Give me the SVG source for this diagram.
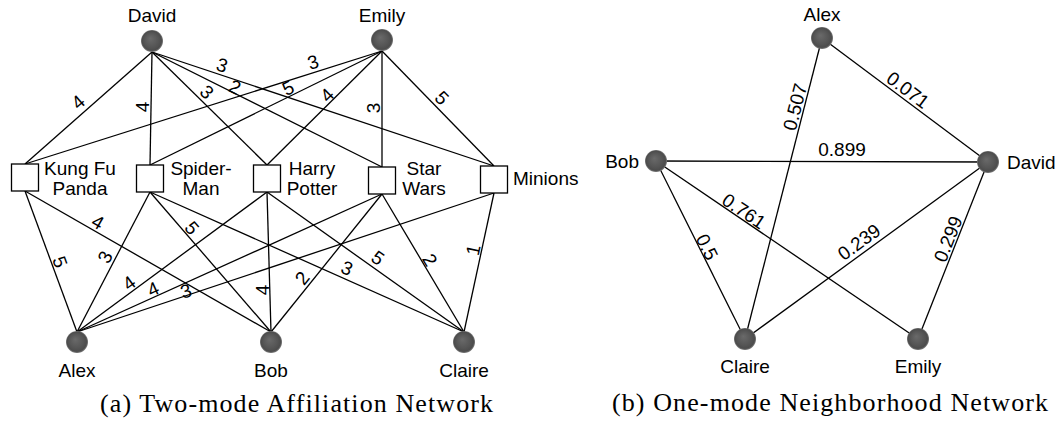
<svg xmlns="http://www.w3.org/2000/svg" width="1058" height="421" viewBox="0 0 1058 421">
<style>
.e{stroke:#000;stroke-width:1.3;fill:none}
.b{fill:url(#ball)}
.m{fill:#fff;stroke:#000;stroke-width:1.3}
.t{font-family:"Liberation Sans",Arial,sans-serif;font-size:19px;fill:#000}
.c{text-anchor:middle}
.w{font-family:"Liberation Sans",Arial,sans-serif;font-size:19px;fill:#000;text-anchor:middle}
.cap{font-family:"Liberation Serif","Times New Roman",serif;font-size:26px;fill:#000;text-anchor:middle}
</style>
<defs>
<radialGradient id="ball" cx="50%" cy="50%" r="50%" fx="42%" fy="38%">
<stop offset="0%" stop-color="#6a6a6a"/>
<stop offset="65%" stop-color="#555"/>
<stop offset="88%" stop-color="#4c4c4c"/>
<stop offset="100%" stop-color="#7a7a7a"/>
</radialGradient>
</defs>
<rect width="1058" height="421" fill="#fff"/>

<g id="connectors-a">
<line class="e" x1="152" y1="52" x2="25" y2="164"/>
<line class="e" x1="152" y1="52" x2="150" y2="165"/>
<line class="e" x1="152" y1="52" x2="267" y2="165"/>
<line class="e" x1="152" y1="52" x2="382" y2="167"/>
<line class="e" x1="152" y1="52" x2="494" y2="166"/>
<line class="e" x1="382" y1="51" x2="25" y2="164"/>
<line class="e" x1="382" y1="51" x2="150" y2="165"/>
<line class="e" x1="382" y1="51" x2="267" y2="165"/>
<line class="e" x1="382" y1="51" x2="382" y2="167"/>
<line class="e" x1="382" y1="51" x2="494" y2="166"/>
<line class="e" x1="77" y1="332" x2="25" y2="191"/>
<line class="e" x1="77" y1="332" x2="150" y2="192"/>
<line class="e" x1="77" y1="332" x2="267" y2="192"/>
<line class="e" x1="77" y1="332" x2="382" y2="194"/>
<line class="e" x1="77" y1="332" x2="494" y2="193"/>
<line class="e" x1="271" y1="332" x2="25" y2="191"/>
<line class="e" x1="271" y1="332" x2="150" y2="192"/>
<line class="e" x1="271" y1="332" x2="267" y2="192"/>
<line class="e" x1="271" y1="332" x2="382" y2="194"/>
<line class="e" x1="464" y1="332" x2="150" y2="192"/>
<line class="e" x1="464" y1="332" x2="267" y2="192"/>
<line class="e" x1="464" y1="332" x2="382" y2="194"/>
<line class="e" x1="464" y1="332" x2="494" y2="193"/>
</g>
<g id="labels-a">
<text class="w" dy=".35em" transform="translate(78,102) rotate(-41.4)">4</text>
<text class="w" dy=".35em" transform="translate(142,107) rotate(-90)">4</text>
<text class="w" dy=".35em" transform="translate(207,92) rotate(44.5)">3</text>
<text class="w" dy=".35em" transform="translate(235,87) rotate(26.6)">2</text>
<text class="w" dy=".35em" transform="translate(222,65) rotate(18.3)">3</text>
<text class="w" dy=".35em" transform="translate(313,62) rotate(-17.6)">3</text>
<text class="w" dy=".35em" transform="translate(288,88) rotate(-26)">5</text>
<text class="w" dy=".35em" transform="translate(327,95) rotate(-44.8)">4</text>
<text class="w" dy=".35em" transform="translate(373,108) rotate(-90)">3</text>
<text class="w" dy=".35em" transform="translate(442,98) rotate(45.8)">5</text>
<text class="w" dy=".35em" transform="translate(60,262) rotate(69.8)">5</text>
<text class="w" dy=".35em" transform="translate(105,257) rotate(-62.5)">3</text>
<text class="w" dy=".35em" transform="translate(129,283) rotate(-36.4)">4</text>
<text class="w" dy=".35em" transform="translate(153,289) rotate(-24.3)">4</text>
<text class="w" dy=".35em" transform="translate(186,291) rotate(-18.4)">3</text>
<text class="w" dy=".35em" transform="translate(98,222) rotate(29.8)">4</text>
<text class="w" dy=".35em" transform="translate(192,228) rotate(49.2)">5</text>
<text class="w" dy=".35em" transform="translate(262,290) rotate(-90)">4</text>
<text class="w" dy=".35em" transform="translate(302,278) rotate(-51.2)">2</text>
<text class="w" dy=".35em" transform="translate(347,268) rotate(24)">3</text>
<text class="w" dy=".35em" transform="translate(378,258) rotate(35.4)">5</text>
<text class="w" dy=".35em" transform="translate(430,260) rotate(59.3)">2</text>
<text class="w" dy=".35em" transform="translate(473,250) rotate(-77.8)">1</text>
</g>

<g id="a-david"><circle class="b" cx="152" cy="41" r="11"/><text class="t c" x="152" y="22">David</text></g>
<g id="a-emily"><circle class="b" cx="382" cy="40" r="11"/><text class="t c" x="382" y="22">Emily</text></g>
<g id="a-kungfupanda"><rect class="m" x="11.5" y="164" width="27" height="27"/><text class="t c" x="80" y="175">Kung Fu</text><text class="t c" x="80" y="195">Panda</text></g>
<g id="a-spiderman"><rect class="m" x="136.5" y="165" width="27" height="27"/><text class="t c" x="201" y="175">Spider-</text><text class="t c" x="201" y="195">Man</text></g>
<g id="a-harrypotter"><rect class="m" x="253.5" y="165" width="27" height="27"/><text class="t c" x="312" y="175">Harry</text><text class="t c" x="312" y="195">Potter</text></g>
<g id="a-starwars"><rect class="m" x="368.5" y="167" width="27" height="27"/><text class="t c" x="424" y="175">Star</text><text class="t c" x="424" y="195">Wars</text></g>
<g id="a-minions"><rect class="m" x="480.5" y="166" width="27" height="27"/><text class="t" x="513" y="185">Minions</text></g>
<g id="a-alex"><circle class="b" cx="77" cy="342" r="11"/><text class="t c" x="77" y="377">Alex</text></g>
<g id="a-bob"><circle class="b" cx="271" cy="342" r="11"/><text class="t c" x="271" y="377">Bob</text></g>
<g id="a-claire"><circle class="b" cx="464" cy="342" r="11"/><text class="t c" x="464" y="377">Claire</text></g>

<g id="connectors-b">
<line class="e" x1="822" y1="38" x2="988" y2="162"/>
<line class="e" x1="822" y1="38" x2="745" y2="339"/>
<line class="e" x1="656" y1="161" x2="988" y2="162"/>
<line class="e" x1="656" y1="161" x2="918" y2="339"/>
<line class="e" x1="656" y1="161" x2="745" y2="339"/>
<line class="e" x1="988" y1="162" x2="745" y2="339"/>
<line class="e" x1="988" y1="162" x2="918" y2="339"/>
</g>
<g id="labels-b">
<text class="w" dy=".35em" transform="translate(795,107) rotate(-75.6)">0.507</text>
<text class="w" dy=".35em" transform="translate(908,90) rotate(36.8)">0.071</text>
<text class="w" x="842" y="156">0.899</text>
<text class="w" dy=".35em" transform="translate(744,211) rotate(34)">0.761</text>
<text class="w" dy=".35em" transform="translate(707,247) rotate(63.4)">0.5</text>
<text class="w" dy=".35em" transform="translate(859,242) rotate(-35.9)">0.239</text>
<text class="w" dy=".35em" transform="translate(948,239) rotate(-68.3)">0.299</text>
</g>
<g id="b-alex"><circle class="b" cx="822" cy="38" r="11"/><text class="t c" x="822" y="21">Alex</text></g>
<g id="b-bob"><circle class="b" cx="656" cy="161" r="11"/><text class="t" x="639" y="168" text-anchor="end">Bob</text></g>
<g id="b-david"><circle class="b" cx="988" cy="162" r="11"/><text class="t" x="1007" y="169">David</text></g>
<g id="b-claire"><circle class="b" cx="745" cy="339" r="11"/><text class="t c" x="745" y="373">Claire</text></g>
<g id="b-emily"><circle class="b" cx="918" cy="339" r="11"/><text class="t c" x="918" y="373">Emily</text></g>

<text class="cap" x="296.5" y="412" textLength="393" lengthAdjust="spacing">(a) Two-mode Affiliation Network</text>
<text class="cap" x="830" y="411" textLength="436" lengthAdjust="spacing">(b) One-mode Neighborhood Network</text>
</svg>
